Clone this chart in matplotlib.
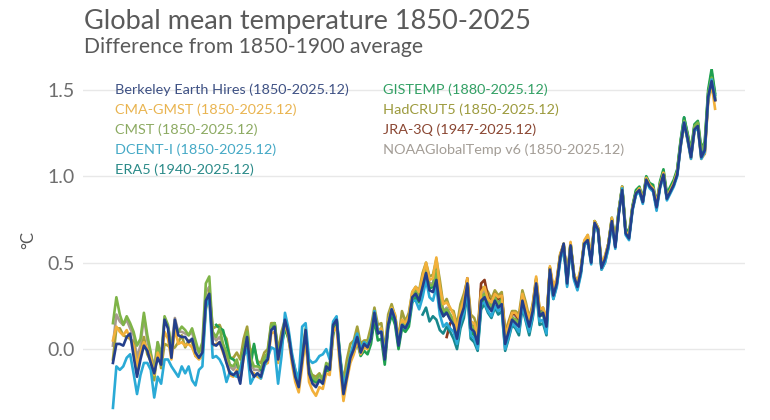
import numpy as np
import matplotlib
matplotlib.use("Agg")
import matplotlib.pyplot as plt

plt.rcParams['font.family'] = ['Lato', 'DejaVu Sans']

# annual anomalies, degC relative to 1850-1900
berkeley = [
    -0.08, 0.03, 0.03, 0.02, 0.07, 0.09, -0.04, -0.16, -0.06, 0.02,
    -0.01, -0.08, -0.14, -0.05, -0.09, 0.17, 0.12, -0.05, 0.17, 0.08,
    0.07, 0.07, 0.04, 0.06, -0.02, -0.05, -0.02, 0.28, 0.32, 0.03,
    0.02, 0.04, -0.01, -0.08, -0.14, -0.15, -0.13, -0.20, -0.04, 0.07,
    -0.12, -0.16, -0.14, -0.16, -0.08, -0.06, 0.11, 0.13, -0.06, 0.05,
    0.17, 0.09, -0.05, -0.16, -0.22, -0.06, 0.11, -0.14, -0.20, -0.22,
    -0.18, -0.20, -0.10, -0.12, 0.14, 0.17, -0.06, -0.26, -0.16, -0.05,
    0.00, 0.07, -0.02, 0.03, 0.01, 0.06, 0.21, 0.09, 0.10, -0.06,
    0.14, 0.23, 0.17, 0.02, 0.14, 0.12, 0.16, 0.30, 0.32, 0.28,
    0.36, 0.44, 0.34, 0.33, 0.40, 0.24, 0.19, 0.21, 0.17, 0.14,
    0.06, 0.18, 0.24, 0.38, 0.12, 0.10, 0.03, 0.28, 0.30, 0.25,
    0.22, 0.28, 0.24, 0.26, 0.03, 0.10, 0.17, 0.15, 0.13, 0.28,
    0.20, 0.13, 0.22, 0.38, 0.19, 0.21, 0.13, 0.46, 0.31, 0.38,
    0.53, 0.61, 0.38, 0.60, 0.42, 0.36, 0.45, 0.61, 0.63, 0.50,
    0.73, 0.69, 0.47, 0.52, 0.60, 0.74, 0.59, 0.78, 0.92, 0.67,
    0.64, 0.81, 0.90, 0.92, 0.85, 0.98, 0.94, 0.92, 0.82, 0.94,
    1.01, 0.87, 0.91, 0.95, 1.01, 1.18, 1.31, 1.22, 1.11, 1.27,
    1.29, 1.11, 1.15, 1.46, 1.55, 1.44]

cma_gmst = [
    0.05, 0.13, 0.10, 0.08, 0.11, 0.06, 0.02, -0.10, -0.02, 0.04,
    0.00, -0.05, -0.15, -0.02, -0.08, 0.10, 0.06, -0.06, 0.12, 0.03,
    0.04, 0.02, 0.03, 0.01, -0.04, -0.06, -0.04, 0.25, 0.30, 0.02,
    0.03, 0.04, -0.02, -0.07, -0.15, -0.16, -0.12, -0.18, -0.05, 0.05,
    -0.13, -0.14, -0.16, -0.17, -0.09, -0.08, 0.09, 0.10, -0.08, 0.04,
    0.15, 0.07, -0.08, -0.19, -0.25, -0.10, 0.07, -0.19, -0.24, -0.27,
    -0.22, -0.23, -0.14, -0.15, 0.10, 0.13, -0.11, -0.30, -0.18, -0.08,
    -0.03, 0.05, -0.03, 0.01, 0.00, 0.07, 0.21, 0.10, 0.12, -0.05,
    0.16, 0.24, 0.20, 0.05, 0.17, 0.15, 0.19, 0.33, 0.36, 0.33,
    0.42, 0.50, 0.40, 0.41, 0.53, 0.36, 0.26, 0.27, 0.24, 0.20,
    0.11, 0.22, 0.29, 0.41, 0.16, 0.15, 0.08, 0.33, 0.36, 0.29,
    0.27, 0.32, 0.30, 0.31, 0.08, 0.14, 0.21, 0.21, 0.18, 0.32,
    0.25, 0.17, 0.25, 0.42, 0.23, 0.24, 0.16, 0.48, 0.36, 0.41,
    0.55, 0.61, 0.41, 0.62, 0.43, 0.39, 0.47, 0.63, 0.66, 0.53,
    0.74, 0.70, 0.49, 0.54, 0.61, 0.76, 0.61, 0.80, 0.94, 0.68,
    0.66, 0.82, 0.90, 0.93, 0.86, 0.99, 0.95, 0.93, 0.84, 0.95,
    1.02, 0.87, 0.92, 0.96, 1.02, 1.17, 1.30, 1.21, 1.10, 1.26,
    1.28, 1.10, 1.13, 1.43, 1.53, 1.39]

cmst = [
    0.15, 0.30, 0.20, 0.14, 0.19, 0.15, 0.10, 0.02, 0.06, 0.21,
    0.08, -0.02, -0.16, 0.04, -0.05, 0.19, 0.14, 0.00, 0.13, 0.10,
    0.13, 0.11, 0.08, 0.12, 0.05, -0.02, 0.04, 0.38, 0.42, 0.10,
    0.07, 0.12, 0.03, -0.02, -0.09, -0.10, -0.06, -0.14, -0.01, 0.10,
    -0.05, -0.10, -0.10, -0.11, -0.05, -0.02, 0.14, 0.15, -0.03, 0.06,
    0.17, 0.10, -0.04, -0.12, -0.18, -0.03, 0.12, -0.10, -0.16, -0.18,
    -0.15, -0.17, -0.08, -0.10, 0.15, 0.18, -0.03, -0.22, -0.13, -0.03,
    0.02, 0.08, 0.00, 0.04, 0.03, 0.08, 0.22, 0.11, 0.12, -0.04,
    0.15, 0.24, 0.19, 0.04, 0.16, 0.14, 0.18, 0.31, 0.34, 0.30,
    0.39, 0.46, 0.37, 0.37, 0.45, 0.30, 0.22, 0.23, 0.20, 0.16,
    0.08, 0.20, 0.26, 0.39, 0.14, 0.12, 0.05, 0.30, 0.32, 0.27,
    0.24, 0.30, 0.26, 0.28, 0.05, 0.12, 0.18, 0.17, 0.15, 0.30,
    0.22, 0.14, 0.23, 0.39, 0.20, 0.22, 0.14, 0.47, 0.33, 0.39,
    0.54, 0.61, 0.39, 0.61, 0.42, 0.37, 0.46, 0.62, 0.64, 0.51,
    0.74, 0.69, 0.48, 0.53, 0.61, 0.75, 0.60, 0.79, 0.93, 0.68,
    0.65, 0.82, 0.90, 0.93, 0.86, 0.99, 0.95, 0.93, 0.83, 0.95,
    1.02, 0.88, 0.92, 0.96, 1.03, 1.20, 1.32, 1.24, 1.14, 1.29,
    1.31, 1.15, 1.19, 1.48, 1.57, 1.46]

dcent_i = [
    -0.34, -0.10, -0.12, -0.10, -0.05, -0.03, -0.14, -0.26, -0.15, -0.08,
    -0.08, -0.12, -0.28, -0.16, -0.20, -0.06, -0.06, -0.10, -0.13, -0.16,
    -0.10, -0.14, -0.10, -0.18, -0.21, -0.12, -0.10, 0.24, 0.30, -0.05,
    -0.04, -0.06, -0.10, -0.19, -0.13, -0.15, -0.16, -0.12, -0.04, 0.00,
    -0.20, -0.16, -0.14, -0.17, -0.10, -0.05, 0.01, 0.00, -0.20, -0.04,
    0.21, 0.12, -0.02, -0.12, -0.18, 0.13, 0.15, -0.06, -0.08, -0.07,
    -0.04, -0.03, 0.00, -0.06, 0.16, 0.19, -0.04, -0.22, -0.14, -0.04,
    0.04, 0.09, 0.00, 0.04, 0.02, 0.07, 0.22, 0.10, 0.10, -0.04,
    0.14, 0.23, 0.17, 0.03, 0.14, 0.12, 0.16, 0.28, 0.28, 0.23,
    0.30, 0.40, 0.30, 0.28, 0.36, 0.20, 0.13, 0.15, 0.12, 0.10,
    0.03, 0.15, 0.21, 0.34, 0.08, 0.06, 0.00, 0.26, 0.27, 0.22,
    0.19, 0.25, 0.22, 0.24, 0.00, 0.07, 0.15, 0.13, 0.10, 0.26,
    0.17, 0.10, 0.19, 0.36, 0.16, 0.17, 0.09, 0.44, 0.29, 0.36,
    0.51, 0.59, 0.36, 0.59, 0.40, 0.34, 0.43, 0.60, 0.62, 0.49,
    0.72, 0.68, 0.46, 0.50, 0.58, 0.73, 0.58, 0.78, 0.93, 0.66,
    0.63, 0.80, 0.89, 0.91, 0.84, 0.97, 0.93, 0.91, 0.80, 0.93,
    1.00, 0.86, 0.90, 0.94, 1.00, 1.17, 1.31, 1.21, 1.10, 1.26,
    1.28, 1.10, 1.14, 1.45, 1.56, 1.45]

era5 = [  # from 1940
    0.20, 0.24, 0.16, 0.19, 0.17, 0.11, 0.09, 0.13, 0.10, 0.06,
    0.00, 0.12, 0.18, 0.32, 0.06, 0.04, -0.01, 0.23, 0.26, 0.21,
    0.18, 0.24, 0.20, 0.22, -0.01, 0.06, 0.14, 0.12, 0.08, 0.24,
    0.16, 0.08, 0.18, 0.34, 0.14, 0.15, 0.08, 0.43, 0.29, 0.37,
    0.52, 0.59, 0.37, 0.61, 0.41, 0.35, 0.44, 0.62, 0.63, 0.50,
    0.73, 0.68, 0.46, 0.50, 0.59, 0.74, 0.59, 0.80, 0.94, 0.68,
    0.65, 0.82, 0.91, 0.93, 0.86, 0.99, 0.95, 0.93, 0.82, 0.95,
    1.02, 0.88, 0.93, 0.97, 1.03, 1.20, 1.34, 1.24, 1.13, 1.29,
    1.31, 1.13, 1.17, 1.48, 1.60, 1.47]

gistemp = [  # from 1880
    0.14, 0.12, 0.11, 0.03, -0.05, -0.06, -0.08, -0.13, 0.00, 0.06,
    -0.10, 0.03, -0.08, -0.12, -0.08, -0.05, 0.13, 0.15, -0.05, 0.02,
    0.12, 0.06, -0.05, -0.14, -0.21, -0.07, 0.08, -0.15, -0.18, -0.19,
    -0.18, -0.20, -0.12, -0.13, 0.08, 0.18, -0.05, -0.22, -0.14, -0.06,
    -0.02, 0.04, -0.04, -0.01, -0.03, 0.03, 0.17, 0.05, 0.06, -0.09,
    0.12, 0.20, 0.14, 0.00, 0.12, 0.10, 0.13, 0.27, 0.30, 0.27,
    0.38, 0.45, 0.35, 0.36, 0.46, 0.30, 0.19, 0.22, 0.18, 0.15,
    0.05, 0.18, 0.25, 0.36, 0.10, 0.08, 0.02, 0.25, 0.30, 0.27,
    0.24, 0.28, 0.26, 0.29, 0.04, 0.11, 0.18, 0.17, 0.15, 0.29,
    0.21, 0.14, 0.22, 0.38, 0.19, 0.20, 0.13, 0.45, 0.32, 0.38,
    0.54, 0.60, 0.39, 0.61, 0.43, 0.37, 0.46, 0.62, 0.64, 0.52,
    0.74, 0.70, 0.48, 0.52, 0.61, 0.76, 0.62, 0.80, 0.94, 0.70,
    0.67, 0.83, 0.92, 0.94, 0.87, 1.00, 0.96, 0.95, 0.84, 0.97,
    1.04, 0.90, 0.94, 0.98, 1.04, 1.21, 1.34, 1.25, 1.15, 1.30,
    1.32, 1.16, 1.20, 1.50, 1.62, 1.48]

hadcrut5 = [
    -0.06, 0.12, 0.12, 0.08, 0.07, 0.06, 0.04, -0.11, -0.03, 0.07,
    -0.03, -0.07, -0.18, 0.02, -0.11, 0.03, 0.02, 0.00, 0.01, 0.04,
    0.08, 0.01, 0.05, 0.04, -0.04, -0.04, -0.03, 0.23, 0.34, 0.12,
    0.13, 0.14, 0.09, 0.06, -0.05, -0.05, -0.02, -0.06, 0.06, 0.13,
    -0.03, 0.02, -0.07, -0.08, -0.02, 0.00, 0.15, 0.15, -0.01, 0.10,
    0.17, 0.09, -0.04, -0.13, -0.20, -0.05, 0.04, -0.13, -0.15, -0.16,
    -0.14, -0.18, -0.11, -0.10, 0.10, 0.17, -0.06, -0.18, -0.06, 0.03,
    0.05, 0.13, 0.03, 0.05, 0.05, 0.13, 0.24, 0.14, 0.15, -0.01,
    0.20, 0.26, 0.19, 0.06, 0.22, 0.16, 0.21, 0.33, 0.36, 0.34,
    0.44, 0.50, 0.42, 0.43, 0.52, 0.40, 0.26, 0.29, 0.23, 0.22,
    0.14, 0.26, 0.32, 0.40, 0.20, 0.18, 0.12, 0.35, 0.36, 0.33,
    0.29, 0.34, 0.31, 0.33, 0.10, 0.16, 0.22, 0.22, 0.20, 0.34,
    0.27, 0.18, 0.26, 0.41, 0.23, 0.24, 0.16, 0.47, 0.35, 0.40,
    0.55, 0.60, 0.42, 0.61, 0.43, 0.38, 0.46, 0.62, 0.66, 0.53,
    0.74, 0.70, 0.50, 0.53, 0.61, 0.75, 0.61, 0.80, 0.93, 0.69,
    0.66, 0.82, 0.91, 0.93, 0.86, 0.99, 0.95, 0.93, 0.84, 0.96,
    1.03, 0.89, 0.92, 0.96, 1.03, 1.19, 1.30, 1.22, 1.13, 1.27,
    1.30, 1.13, 1.16, 1.46, 1.56, 1.45]

jra3q = [  # from 1947
    0.07, 0.15, 0.16,
    0.05, 0.17, 0.27, 0.41, 0.13, 0.13, 0.05, 0.38, 0.40, 0.30,
    0.27, 0.32, 0.29, 0.31, 0.08, 0.14, 0.21, 0.20, 0.17, 0.31,
    0.24, 0.16, 0.24, 0.40, 0.21, 0.22, 0.14, 0.47, 0.33, 0.39,
    0.54, 0.60, 0.40, 0.60, 0.42, 0.37, 0.45, 0.62, 0.64, 0.51,
    0.73, 0.69, 0.47, 0.52, 0.60, 0.75, 0.60, 0.79, 0.93, 0.68,
    0.65, 0.81, 0.90, 0.92, 0.85, 0.98, 0.94, 0.92, 0.82, 0.94,
    1.01, 0.87, 0.91, 0.95, 1.01, 1.18, 1.31, 1.22, 1.11, 1.27,
    1.29, 1.11, 1.13, 1.45, 1.55, 1.44]

noaa_v6 = [
    0.02, 0.20, 0.16, 0.14, 0.17, 0.12, 0.08, -0.05, 0.02, 0.19,
    0.05, -0.03, -0.10, 0.04, -0.04, 0.16, 0.13, 0.02, 0.18, 0.10,
    0.10, 0.09, 0.08, 0.10, 0.02, -0.02, 0.01, 0.33, 0.36, 0.08,
    0.05, 0.07, 0.02, -0.04, -0.10, -0.12, -0.09, -0.15, -0.02, 0.08,
    -0.08, -0.12, -0.12, -0.13, -0.06, -0.04, 0.12, 0.14, -0.04, 0.05,
    0.15, 0.08, -0.05, -0.14, -0.20, -0.06, 0.09, -0.13, -0.18, -0.20,
    -0.17, -0.19, -0.10, -0.11, 0.13, 0.16, -0.06, -0.24, -0.15, -0.05,
    0.00, 0.06, -0.02, 0.02, 0.01, 0.06, 0.20, 0.09, 0.10, -0.05,
    0.14, 0.22, 0.17, 0.03, 0.15, 0.13, 0.17, 0.30, 0.33, 0.30,
    0.40, 0.47, 0.38, 0.38, 0.48, 0.34, 0.22, 0.24, 0.20, 0.17,
    0.09, 0.21, 0.27, 0.39, 0.15, 0.13, 0.07, 0.31, 0.34, 0.28,
    0.25, 0.31, 0.28, 0.30, 0.07, 0.13, 0.20, 0.19, 0.16, 0.31,
    0.23, 0.15, 0.24, 0.40, 0.21, 0.22, 0.14, 0.46, 0.33, 0.39,
    0.54, 0.60, 0.40, 0.60, 0.42, 0.37, 0.45, 0.61, 0.64, 0.51,
    0.73, 0.69, 0.48, 0.52, 0.60, 0.74, 0.60, 0.79, 0.93, 0.68,
    0.65, 0.81, 0.90, 0.92, 0.85, 0.98, 0.94, 0.92, 0.82, 0.94,
    1.01, 0.87, 0.91, 0.95, 1.01, 1.18, 1.31, 1.22, 1.11, 1.27,
    1.29, 1.12, 1.15, 1.46, 1.56, 1.44]

# (label, data, first year, line colour, text colour)
series = [
    ("NOAAGlobalTemp v6 (1850-2025.12)", noaa_v6, 1850, "#a89a90", "#a39d96"),
    ("HadCRUT5 (1850-2025.12)", hadcrut5, 1850, "#a3a03a", "#9c9a3c"),
    ("JRA-3Q (1947-2025.12)", jra3q, 1947, "#8c3a1c", "#8a4632"),
    ("ERA5 (1940-2025.12)", era5, 1940, "#17878c", "#2a8a88"),
    ("GISTEMP (1880-2025.12)", gistemp, 1880, "#1fa050", "#32a064"),
    ("CMST (1850-2025.12)", cmst, 1850, "#7fb448", "#8caa62"),
    ("CMA-GMST (1850-2025.12)", cma_gmst, 1850, "#f2b03a", "#e9b450"),
    ("DCENT-I (1850-2025.12)", dcent_i, 1850, "#2aaad6", "#45a9c6"),
    ("Berkeley Earth Hires (1850-2025.12)", berkeley, 1850, "#233f8c", "#3e5184"),
]

W, H = 770, 420
fig = plt.figure(figsize=(W / 100, H / 100), dpi=100)
ax = fig.add_axes([83 / W, 0, (745 - 83) / W, 1 - 69 / H])

for label, vals, start, col, _ in series:
    yrs = np.arange(start, start + len(vals))
    ax.plot(yrs, vals, color=col, lw=1.9, solid_joinstyle='round')

ax.set_xlim(1841.3, 2033.7)
ax.set_ylim(-0.41, 1.62)
ax.set_yticks([0.0, 0.5, 1.0, 1.5])
ax.set_yticklabels(["0.0", "0.5", "1.0", "1.5"])
ax.set_xticks([])
ax.grid(axis='y', color='#e8e8e8', lw=1)
ax.set_axisbelow(True)
for s in ax.spines.values():
    s.set_visible(False)
ax.tick_params(axis='y', length=0, pad=6, labelsize=14, labelcolor='#6e6e6e')
ax.set_ylabel("°C", color='#555555', fontsize=12)
ax.yaxis.set_label_coords(-0.071, 0.513)

fig.text(84 / W, 1 - 22 / H, "Global mean temperature 1850-2025",
         fontsize=19.5, color='#5a5a5a', va='center')
fig.text(84 / W, 1 - 47 / H, "Difference from 1850-1900 average",
         fontsize=15.2, color='#5a5a5a', va='center')

# legend laid out as two columns of coloured text
legend_order = ["Berkeley Earth Hires (1850-2025.12)", "CMA-GMST (1850-2025.12)",
                "CMST (1850-2025.12)", "DCENT-I (1850-2025.12)", "ERA5 (1940-2025.12)",
                "GISTEMP (1880-2025.12)", "HadCRUT5 (1850-2025.12)",
                "JRA-3Q (1947-2025.12)", "NOAAGlobalTemp v6 (1850-2025.12)"]
text_col = {s[0]: s[4] for s in series}
for i, name in enumerate(legend_order):
    col_x = 115 if i < 5 else 383
    row = i if i < 5 else i - 5
    fig.text(col_x / W, 1 - (90 + 20 * row) / H, name, fontsize=10.4,
             color=text_col[name], va='center')

fig.savefig("out.png", dpi=100)
